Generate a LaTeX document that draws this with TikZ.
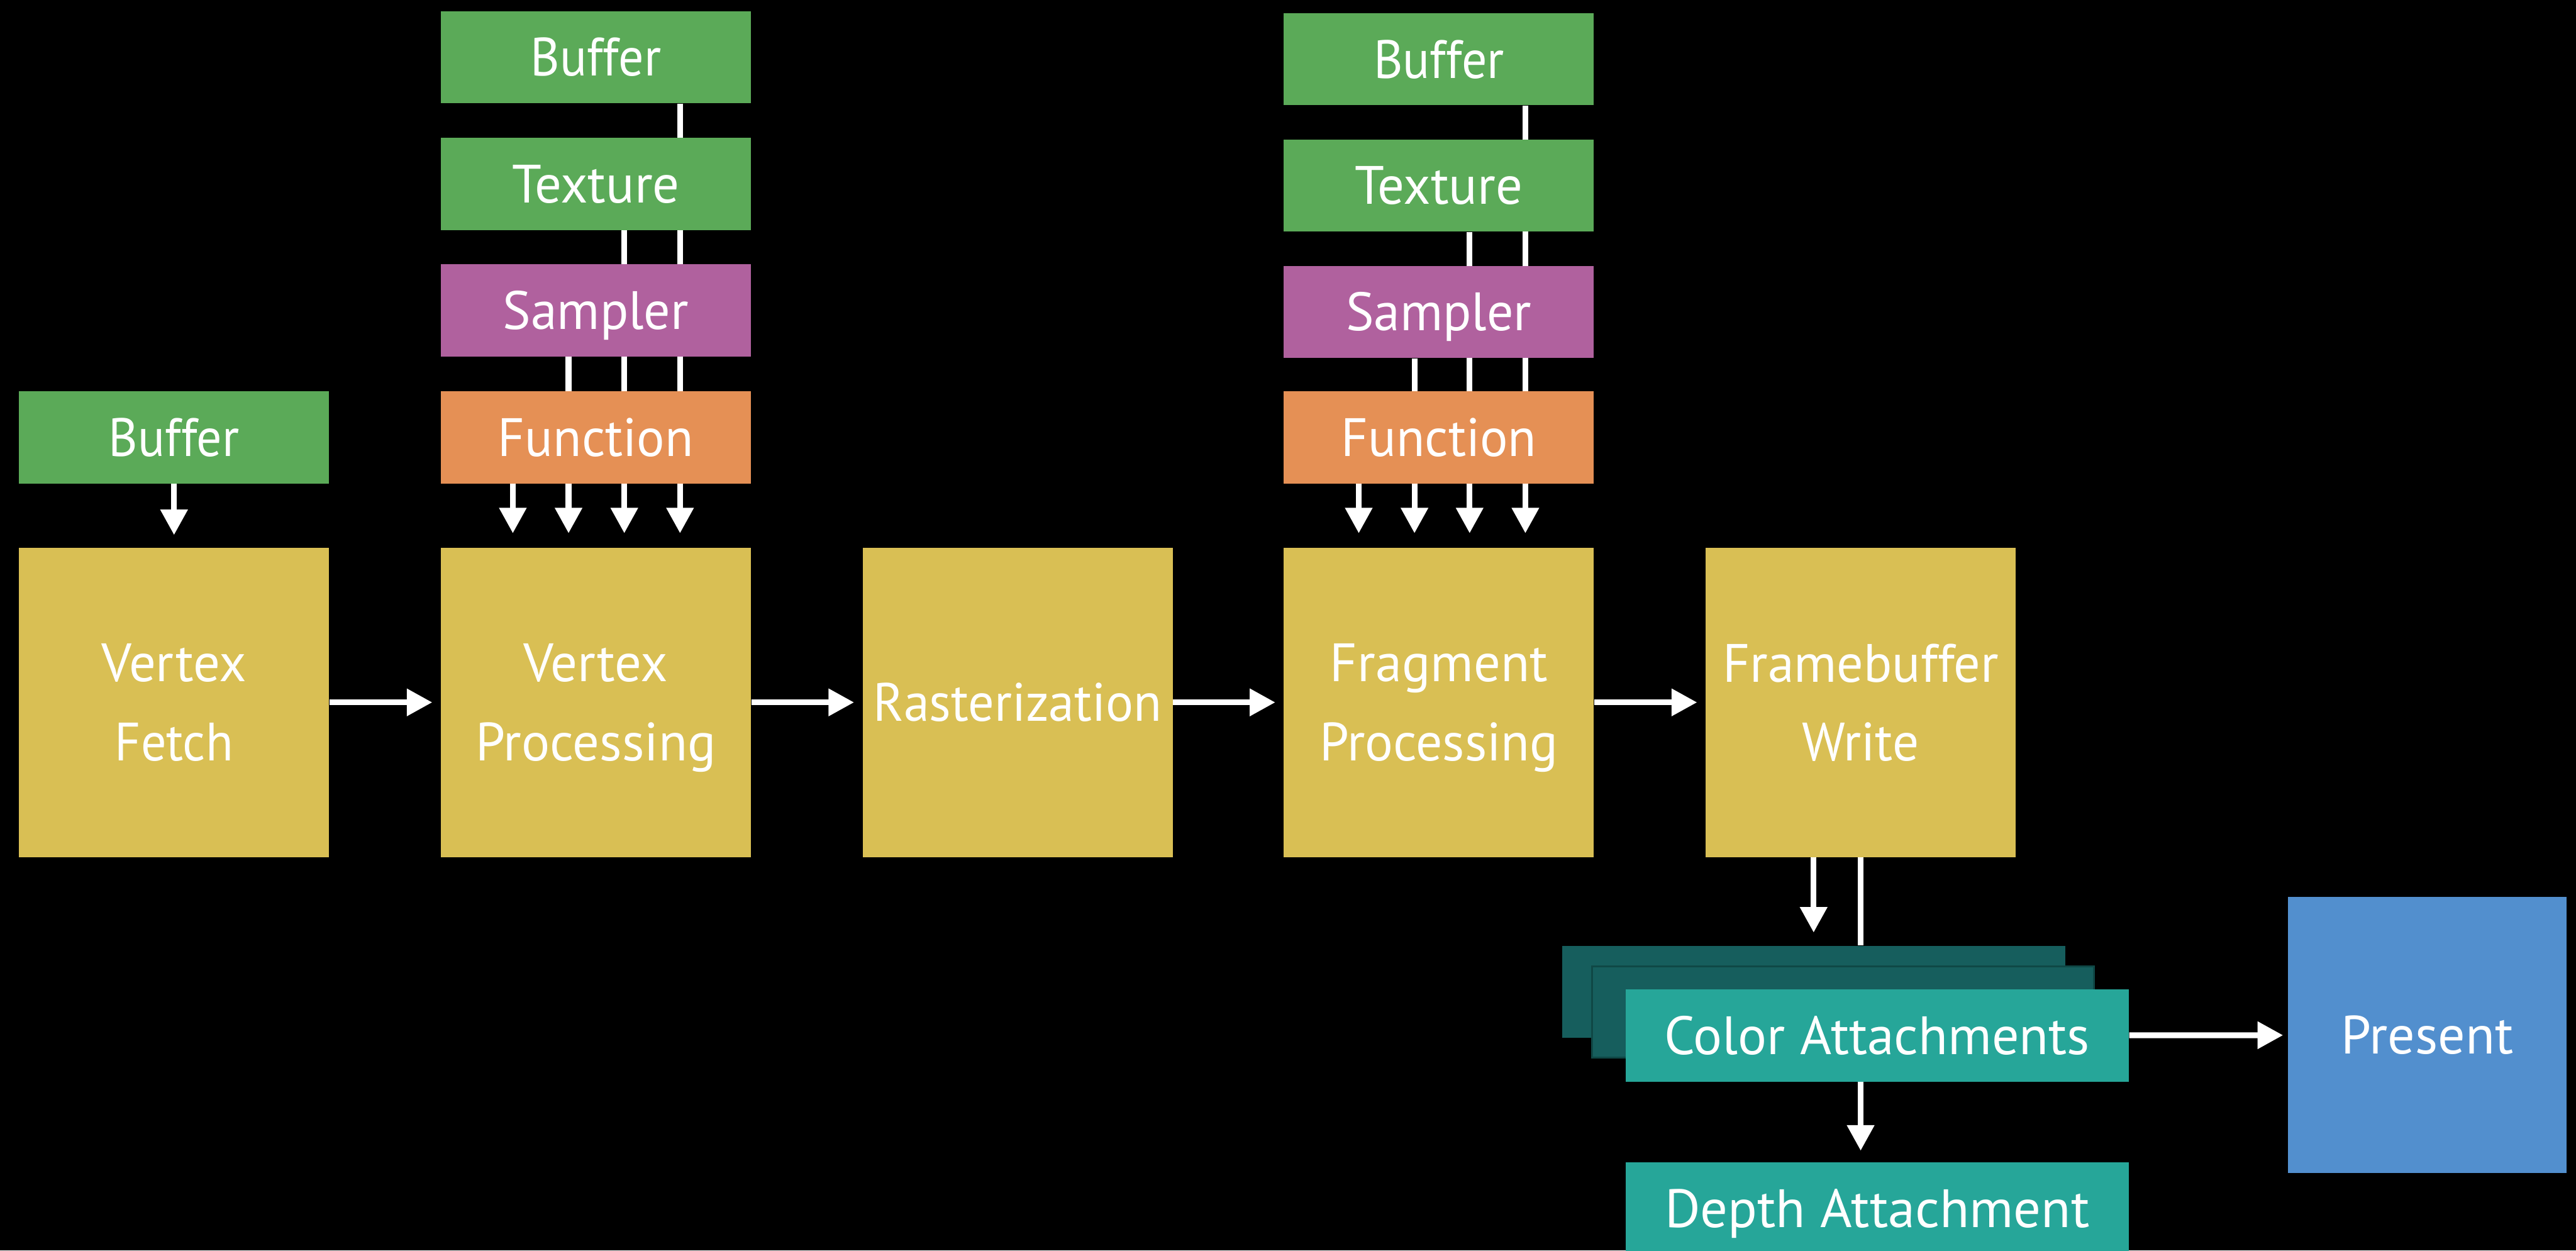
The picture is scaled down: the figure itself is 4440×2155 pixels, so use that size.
\documentclass[tikz,border=0pt]{standalone}
\usepackage{fontspec}
\setmainfont{PT Sans}
\usetikzlibrary{arrows.meta,backgrounds}
\newlength\pxu \setlength\pxu{0.01cm}
\newcommand{\tx}[2]{\resizebox{#1\pxu}{\height}{#2}}
\definecolor{cgreen}{HTML}{5BAA58}
\definecolor{cyellow}{HTML}{D9BF54}
\definecolor{cpurple}{HTML}{B0619E}
\definecolor{corange}{HTML}{E59055}
\definecolor{cteal}{HTML}{26A699}
\definecolor{cdteal}{HTML}{165E5D}
\definecolor{cdteal2}{HTML}{0F4846}
\definecolor{cblue}{HTML}{528FCE}
\begin{document}
\begin{tikzpicture}[x=0.01cm,y=-0.01cm,
  box/.style={draw=none, inner sep=0pt, font=\fontsize{26.46}{38.7}\selectfont, text=white, align=center, text depth=0pt},
  stage/.style={box, fill=cyellow, minimum width=5.34cm, minimum height=5.33cm},
  res/.style={box, minimum width=5.34cm, minimum height=1.585cm},
  att/.style={box, minimum width=8.67cm, minimum height=1.59cm},
  one/.style={text height=0.65cm},
  conn/.style={draw=white, line width=0.1cm},
  arr/.style={conn, -{Triangle[width=0.45cm,length=0.44cm]}},
]
\useasboundingbox (0,0) rectangle (4440,2155);
\begin{pgfonlayer}{background}
\fill[black] (0,0) rectangle (4440,2155);
\end{pgfonlayer}
\clip (0,0) rectangle (4440,2155);

% main pipeline
\node[stage] (vf) at (300,1210.5) {\tx{249}{Vertex}\\\tx{204}{Fetch}};
\node[stage] (vp) at (1027,1210.5) {\tx{249}{Vertex}\\\tx{414}{Processing}};
\node[stage, one] (ras) at (1754,1210.5) {\tx{497}{Rasterization}};
\node[stage] (fp) at (2480,1210.5) {\tx{375}{Fragment}\\\tx{411}{Processing}};
\node[stage] (fw) at (3207,1210.5) {\tx{476}{Framebuffer}\\\tx{201}{Write}};

% left buffer
\node[res, one, fill=cgreen] (buf0) at (300,754) {\tx{225}{Buffer}};

% stack 1
\node[res, one, fill=cgreen] (buf1) at (1027,98.5) {\tx{225}{Buffer}};
\node[res, one, fill=cgreen] (tex1) at (1027,317) {\tx{289}{Texture}};
\node[res, one, fill=cpurple] (smp1) at (1027,535) {\tx{320}{Sampler}};
\node[res, one, fill=corange] (fn1) at (1027,754) {\tx{337}{Function}};

% stack 2
\node[res, one, fill=cgreen] (buf2) at (2480,102) {\tx{225}{Buffer}};
\node[res, one, fill=cgreen] (tex2) at (2480,319.5) {\tx{289}{Texture}};
\node[res, one, fill=cpurple] (smp2) at (2480,537.5) {\tx{320}{Sampler}};
\node[res, one, fill=corange] (fn2) at (2480,754) {\tx{337}{Function}};

% attachments
\node[att, fill=cdteal] (back1) at (3126.5,1709.5) {};
\node[att, fill=cdteal, draw=cdteal2, line width=0.03cm, minimum width=8.64cm, minimum height=1.57cm] (back2) at (3176.5,1744) {};
\node[att, one, fill=cteal] (col) at (3235.5,1784.5) {\tx{733}{Color Attachments}};
\node[att, one, fill=cteal] (dep) at (3235.5,2082.5) {\tx{732}{Depth Attachment}};
\node[box, one, fill=cblue, minimum width=4.79cm, minimum height=4.76cm] (pre) at (4183.5,1784) {\tx{297}{Present}};

\begin{pgfonlayer}{background}
  % stack 1 lines
  \draw[arr, shorten >=0.24cm] ([xshift=1.45cm]buf1.south) -- ([xshift=1.45cm]buf1.south |- vp.north);
  \draw[arr, shorten >=0.24cm] ([xshift=0.49cm]tex1.south) -- ([xshift=0.49cm]tex1.south |- vp.north);
  \draw[arr, shorten >=0.24cm] ([xshift=-0.47cm]smp1.south) -- ([xshift=-0.47cm]smp1.south |- vp.north);
  \draw[arr, shorten >=0.24cm] ([xshift=-1.43cm]fn1.south) -- ([xshift=-1.43cm]fn1.south |- vp.north);
  % stack 2 lines
  \draw[arr, shorten >=0.24cm] ([xshift=1.49cm]buf2.south) -- ([xshift=1.49cm]buf2.south |- fp.north);
  \draw[arr, shorten >=0.24cm] ([xshift=0.53cm]tex2.south) -- ([xshift=0.53cm]tex2.south |- fp.north);
  \draw[arr, shorten >=0.24cm] ([xshift=-0.42cm]smp2.south) -- ([xshift=-0.42cm]smp2.south |- fp.north);
  \draw[arr, shorten >=0.24cm] ([xshift=-1.38cm]fn2.south) -- ([xshift=-1.38cm]fn2.south |- fp.north);
\end{pgfonlayer}

% left buffer arrow
\draw[arr, shorten >=0.21cm] (buf0) -- (vf);
% horizontal pipeline arrows
\draw[arr, shorten >=0.14cm] (vf) -- (vp);
\draw[arr, shorten >=0.14cm] (vp) -- (ras);
\draw[arr, shorten >=0.14cm] (ras) -- (fp);
\draw[arr, shorten >=0.14cm] (fp) -- (fw);
% framebuffer to attachments
\draw[arr, shorten >=0.22cm] ([xshift=-0.81cm]fw.south) -- ([xshift=-0.81cm]fw.south |- back1.north);
\draw[conn] (fw.south) -- (fw.south |- back1.north);
\draw[arr, shorten >=0.19cm] (col.south -| fw.south) -- (dep.north -| fw.south);
\draw[arr, shorten >=0.08cm] (col) -- (pre);
\end{tikzpicture}
\end{document}
